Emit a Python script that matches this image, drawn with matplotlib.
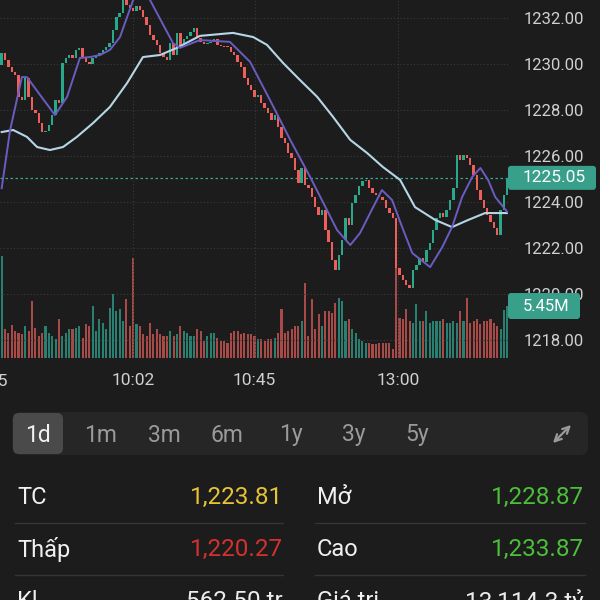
import numpy as np
import matplotlib.pyplot as plt
from matplotlib.patches import FancyBboxPatch

plt.rcParams['font.family'] = ['Roboto', 'DejaVu Sans']

# --- dữ liệu (nến 1 phút, giá đóng cửa) ---
closes = [
    1230.48, 1230.17, 1229.87, 1229.65, 1229.52, 1228.57, 1228.43, 1229.39, 1228.57, 1228.00,
    1227.87, 1227.43, 1227.04, 1227.10, 1227.35, 1227.78, 1228.43, 1228.30, 1230.04, 1230.26,
    1230.39, 1230.26, 1230.60, 1230.70, 1230.26, 1230.09, 1230.00, 1230.26, 1230.35, 1230.48,
    1230.60, 1230.74, 1230.91, 1231.48, 1232.04, 1232.20, 1232.78, 1232.57, 1232.43, 1232.30,
    1232.52, 1232.35, 1232.04, 1231.70, 1231.26, 1231.04, 1230.83, 1230.48, 1230.30, 1230.17,
    1230.91, 1230.39, 1231.35, 1230.74, 1231.09, 1231.22, 1231.39, 1231.57, 1231.13, 1230.96,
    1230.87, 1230.91, 1230.96, 1231.09, 1230.83, 1230.80, 1230.78, 1230.74, 1230.52, 1230.39,
    1230.09, 1229.87, 1229.39, 1229.09, 1228.87, 1228.57, 1228.65, 1228.30, 1228.09, 1227.87,
    1227.57, 1227.78, 1227.26, 1226.78, 1226.57, 1226.13, 1225.91, 1225.39, 1224.83, 1225.48,
    1224.74, 1224.61, 1224.22, 1223.78, 1223.43, 1223.65, 1222.78, 1222.26, 1221.48, 1221.04,
    1221.70, 1222.35, 1223.30, 1223.00, 1223.96, 1224.30, 1224.70, 1224.91, 1224.96, 1224.61,
    1224.39, 1224.30, 1224.20, 1224.09, 1223.74, 1223.52, 1223.30, 1221.13, 1220.83, 1220.61,
    1220.39, 1220.27, 1221.04, 1221.26, 1221.57, 1221.39, 1221.91, 1222.20, 1222.78, 1223.30,
    1223.52, 1223.35, 1223.65, 1224.09, 1224.60, 1226.04, 1225.83, 1226.04, 1225.91, 1225.61,
    1225.17, 1224.52, 1224.09, 1223.74, 1223.43, 1223.13, 1222.87, 1222.57, 1223.65, 1224.30,
    1225.05,
]
first_open = 1229.96

# khối lượng (triệu)
volumes = [
    10.7, 3.0, 2.6, 3.5, 2.8, 2.6, 2.5, 3.4, 2.8, 6.0,
    3.1, 2.3, 2.6, 3.4, 2.6, 2.3, 2.0, 4.1, 2.3, 2.6,
    3.0, 3.0, 3.1, 3.4, 2.1, 3.6, 3.4, 5.5, 2.8, 4.1,
    3.7, 3.0, 5.2, 6.7, 4.9, 5.1, 3.9, 6.2, 3.4, 10.5,
    3.6, 3.4, 2.5, 2.3, 3.7, 2.5, 3.0, 2.5, 2.3, 2.3,
    2.8, 2.3, 2.5, 3.4, 2.8, 2.6, 2.3, 2.3, 3.0, 2.8,
    1.8, 2.3, 2.6, 2.6, 2.1, 1.8, 1.8, 1.6, 2.6, 2.8,
    2.8, 2.5, 2.6, 2.5, 2.5, 2.3, 2.0, 2.0, 1.8, 2.0,
    2.0, 2.1, 2.6, 5.1, 2.6, 2.8, 3.0, 3.4, 3.4, 3.9,
    7.9, 2.3, 6.2, 3.0, 4.6, 3.4, 4.9, 4.9, 4.7, 5.8,
    6.3, 6.0, 3.9, 4.1, 3.0, 2.6, 2.0, 1.8, 1.6, 1.6,
    1.5, 1.5, 1.6, 1.6, 1.6, 1.6, 0.9, 14.0, 4.2, 4.1,
    5.1, 3.9, 3.7, 5.7, 3.9, 3.9, 4.9, 3.7, 3.9, 3.9,
    3.9, 4.1, 3.7, 3.7, 3.9, 3.7, 4.9, 3.9, 6.3, 3.7,
    3.9, 4.1, 3.6, 3.9, 3.9, 4.1, 3.7, 3.4, 3.0, 5.0,
    5.45,
]

# đường trung bình (điểm đọc trên ảnh)
ma_fast_i = [0, 2.5, 6, 7.5, 11.4, 15.8, 19.4, 23.2, 26.2, 29.2, 32.1, 35.1, 39, 41.3, 44,
             50.8, 52.9, 58.8, 67.7, 73.7, 79.6, 85.6, 91.5, 96.5, 99.5, 103.4, 106.3, 109.3,
             112.8, 115.8, 118.8, 121.8, 127.1, 130.7, 133.6, 136.6, 139.6, 142, 144.3, 146.4, 150]
ma_fast = [1224.6, 1227.13, 1229.43, 1229.43, 1228.65, 1227.78, 1228.57, 1230.26, 1230.3, 1230.39,
           1230.61, 1231.17, 1232.78, 1233.2, 1232.78, 1230.91, 1230.7, 1231.04, 1230.96, 1230.09,
           1228.43, 1226.7, 1225.09, 1223.65, 1222.78, 1222.13, 1222.65, 1223.52, 1224.52, 1224.09,
           1222.91, 1221.78, 1221.17, 1222.04, 1222.91, 1224.22, 1225.09, 1225.48, 1224.96, 1224.22,
           1223.57]
ma_slow_i = [0, 3.4, 7.5, 10.5, 14.3, 18.2, 22.3, 27.1, 32.1, 37.2, 41.9, 47, 52, 58.8, 68.6,
             74.6, 78.7, 83.5, 88.5, 93.6, 98.3, 103.4, 108.4, 113.1, 118.2, 122.6, 128.6, 133.6,
             138.4, 143.4, 150]
ma_slow = [1227.04, 1227.13, 1226.83, 1226.39, 1226.26, 1226.39, 1226.83, 1227.43, 1228.13, 1229.17,
           1230.3, 1230.39, 1230.7, 1231.22, 1231.35, 1231.17, 1230.83, 1230.04, 1229.3, 1228.57,
           1227.7, 1226.7, 1226.13, 1225.52, 1224.96, 1223.78, 1223.22, 1222.91, 1223.22, 1223.52,
           1223.52]

price_ticks = [1218, 1220, 1222, 1224, 1226, 1228, 1230, 1232]
time_pos = [39, 75, 117.6]
time_labels = ['10:02', '10:45', '13:00']
first_time_label = '9:15'
last_price = 1225.05
last_volume_label = '5.45M'

tabs = ['1d', '1m', '3m', '6m', '1y', '3y', '5y']
info_left = [('TC', '1,223.81', '#e6c337'), ('Thấp', '1,220.27', '#d2322d'), ('Kl', '562.50 tr', '#ececec')]
info_right = [('Mở', '1,228.87', '#4cbf3a'), ('Cao', '1,233.87', '#4cbf3a'), ('Giá trị', '13,114.3 tỷ', '#ececec')]

# --- màu ---
BG = '#1c1c1c'
UP = '#2aa98a'
DOWN = '#ee5e5b'
VOL_UP = '#2a8070'
VOL_DOWN = '#a84a48'
TEAL = '#389f8a'
GRID = '#3a3a3a'
TXT = '#d0d0d0'

closes = np.array(closes)
volumes = np.array(volumes)
n = len(closes)
idx = np.arange(n)
opens = np.r_[first_open, closes[:-1]]
up = closes >= opens
body = closes - opens
body = np.where(np.abs(body) < 0.05, np.where(up, 0.05, -0.05), body)

fig = plt.figure(figsize=(6, 6), dpi=100, facecolor=BG)
pos = [0, 1 - 358 / 600, 508 / 600, 358 / 600]

# khối lượng ở trục riêng bên dưới
axv = fig.add_axes(pos)
axv.set_facecolor(BG)
axv.bar(idx, volumes, width=0.62, color=np.where(up, VOL_UP, VOL_DOWN), linewidth=0)
axv.set_xlim(-0.5, 150.2)
axv.set_ylim(0, 358 / 9.54)
axv.axis('off')

# nến giá
ax = fig.add_axes(pos)
ax.set_facecolor('none')
ax.bar(idx, body, bottom=opens, width=0.72, color=np.where(up, UP, DOWN), linewidth=0, zorder=3)
ax.plot(ma_slow_i, ma_slow, color='#b6d6e8', lw=1.5, zorder=4, solid_joinstyle='round')
ax.plot(ma_fast_i, ma_fast, color='#6b5cc2', lw=1.4, zorder=4, solid_joinstyle='round')
ax.axhline(last_price, color='#3aa88e', ls=(0, (2, 2)), lw=0.9, zorder=2)
ax.set_xlim(-0.5, 150.2)
ax.set_ylim(1217.22, 1232.78)

ax.yaxis.tick_right()
ax.set_yticks(price_ticks)
ax.set_yticklabels([f'{p:.2f}' for p in price_ticks])
ax.set_xticks(time_pos)
ax.set_xticklabels(time_labels)
ax.tick_params(axis='y', length=0, pad=11, labelsize=12, labelcolor=TXT)
ax.tick_params(axis='x', length=0, pad=11, labelsize=12.5, labelcolor=TXT)
ax.grid(True, color=GRID, linestyle=(0, (1, 2)), lw=0.8)
ax.set_axisbelow(True)
for s in ax.spines.values():
    s.set_visible(False)
ax.text(-3.2, 1217.22 - 16 / 23, first_time_label, ha='center', va='top', fontsize=12.5,
        color=TXT, clip_on=False)

# vị trí pixel của nhãn giá/khối lượng cuối
y_price = 600 - ax.transData.transform((0, last_price))[1]
y_vol = 600 - axv.transData.transform((0, volumes[-1]))[1]

# --- lớp giao diện (toạ độ pixel) ---
ui = fig.add_axes([0, 0, 1, 1])
ui.set_xlim(0, 600)
ui.set_ylim(600, 0)
ui.axis('off')
ui.patch.set_alpha(0)

ui.add_patch(FancyBboxPatch((508, y_price - 12), 88, 24, boxstyle='round,pad=0,rounding_size=3',
                            fc=TEAL, ec='none'))
ui.text(554, y_price, f'{last_price:.2f}', ha='center', va='center', fontsize=12.5, color='white')
ui.add_patch(FancyBboxPatch((508, y_vol - 13), 72, 26, boxstyle='round,pad=0,rounding_size=3',
                            fc=TEAL, ec='none'))
ui.text(546, y_vol, last_volume_label, ha='center', va='center', fontsize=12, color='white')

# thanh chọn khung thời gian
ui.add_patch(FancyBboxPatch((12, 412), 576, 43, boxstyle='round,pad=0,rounding_size=8',
                            fc='#262626', ec='none'))
ui.add_patch(FancyBboxPatch((13, 413), 50, 41, boxstyle='round,pad=0,rounding_size=6',
                            fc='#4a4a4a', ec='none'))
tab_x = [38, 101, 164, 227, 291, 354, 417]
for k, (tx, lab) in enumerate(zip(tab_x, tabs)):
    ui.text(tx, 435, lab, ha='center', va='center', fontsize=16.5,
            color='#f2f2f2' if k == 0 else '#9a9a9a')
ui.annotate('', xy=(573, 423), xytext=(551, 445),
            arrowprops=dict(arrowstyle='<->', color='#9a9a9a', lw=1.6, mutation_scale=12))

# bảng thông tin
row_y = [497, 549, 601]
for ry, (l1, v1, c1), (l2, v2, c2) in zip(row_y, info_left, info_right):
    ui.text(17, ry, l1, ha='left', va='center', fontsize=17, color='#f0f0f0')
    ui.text(283, ry, v1, ha='right', va='center', fontsize=17.5, color=c1)
    ui.text(317, ry, l2, ha='left', va='center', fontsize=17, color='#f0f0f0')
    ui.text(584, ry, v2, ha='right', va='center', fontsize=17.5, color=c2)
for sy in [523, 575]:
    ui.plot([15, 283], [sy, sy], color='#353535', lw=1)
    ui.plot([315, 585], [sy, sy], color='#353535', lw=1)

fig.savefig('out.png', dpi=100, facecolor=BG)
